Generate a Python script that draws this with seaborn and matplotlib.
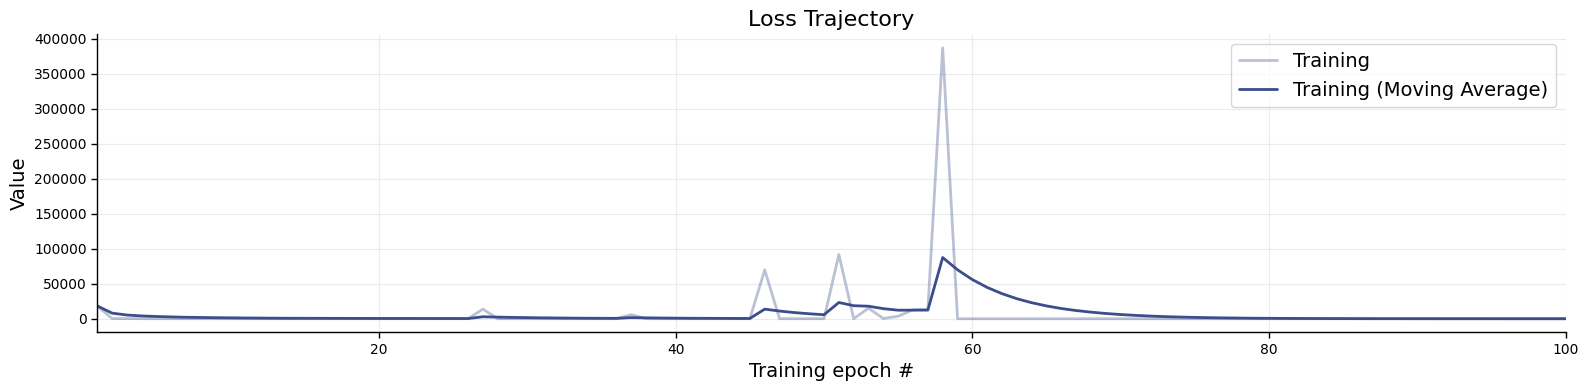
import matplotlib
matplotlib.use("Agg")
import matplotlib.pyplot as plt
import seaborn as sns
import pandas as pd

epochs = list(range(1, 101))

training = [
    18500, 500, 400, 350, 300, 300, 300, 300, 300, 300,
    300, 300, 300, 300, 300, 300, 300, 300, 300, 300,
    300, 300, 300, 300, 300, 300, 13900, 300, 300, 300,
    300, 300, 300, 300, 300, 300, 6000, 300, 300, 300,
    300, 300, 300, 300, 300, 69900, 300, 300, 300, 300,
    91800, 300, 15300, 500, 3800, 13000, 13000, 387000, 200, 200,
    200, 200, 200, 200, 200, 200, 200, 200, 200, 200,
    200, 200, 200, 200, 200, 200, 200, 200, 200, 200,
    200, 200, 200, 200, 200, 200, 200, 200, 200, 200,
    200, 200, 200, 200, 200, 200, 200, 200, 200, 200,
]

moving_avg = [
    18500, 8200, 5500, 4200, 3400, 2800, 2300, 2000, 1700, 1500,
    1300, 1150, 1000, 900, 850, 800, 750, 700, 650, 600,
    580, 560, 540, 520, 500, 480, 3000, 2500, 2100, 1800,
    1500, 1300, 1100, 950, 850, 750, 1800, 1500, 1250, 1050,
    900, 800, 700, 620, 560, 13900, 11200, 9000, 7300, 5900,
    23400, 18800, 18100, 14600, 12400, 12500, 12600, 87600, 70100, 56100,
    44900, 36000, 28800, 23100, 18500, 14800, 11900, 9600, 7700, 6200,
    5000, 4000, 3200, 2600, 2100, 1700, 1400, 1150, 950, 800,
    680, 580, 500, 440, 390, 350, 320, 300, 280, 265,
    250, 240, 230, 225, 220, 215, 210, 208, 205, 203,
]

labels = ["Training", "Training (Moving Average)"]
title = "Loss Trajectory"
xlabel = "Training epoch #"
ylabel = "Value"

color = "#3b4d8a"

sns.set_theme(style="whitegrid")
plt.rcParams['font.family'] = ['DejaVu Sans']
plt.rcParams['text.color'] = 'black'
plt.rcParams['axes.labelcolor'] = 'black'
plt.rcParams['xtick.color'] = 'black'
plt.rcParams['ytick.color'] = 'black'

fig = plt.figure(figsize=(15.89, 3.90), dpi=100)
ax = fig.add_axes([0.0612, 0.148, 0.9241, 0.764])

df = pd.DataFrame({"epoch": epochs, "train": training, "ma": moving_avg})
sns.lineplot(data=df, x="epoch", y="train", ax=ax, color=color, alpha=0.35,
             linewidth=2, label=labels[0])
sns.lineplot(data=df, x="epoch", y="ma", ax=ax, color=color, alpha=1.0,
             linewidth=2, label=labels[1])

ax.set_xlim(1, 100)
ax.set_xticks([20, 40, 60, 80, 100])
ax.set_yticks(list(range(0, 400001, 50000)))
ax.set_title(title, fontsize=16, color="black")
ax.set_xlabel(xlabel, fontsize=14, color="black")
ax.set_ylabel(ylabel, fontsize=14, color="black")
ax.tick_params(axis="both", labelsize=10, length=4, width=1, color="black",
               labelcolor="black", bottom=True, left=True)
ax.grid(True, color="#e6e6e6", linewidth=0.8, alpha=0.8)
for side in ["top", "right"]:
    ax.spines[side].set_visible(False)
for side in ["left", "bottom"]:
    ax.spines[side].set_color("black")
    ax.spines[side].set_linewidth(1)
ax.set_facecolor("white")
leg = ax.legend(loc="upper right", fontsize=14, frameon=True)
leg.get_frame().set_edgecolor("#cccccc")
for t in leg.get_texts():
    t.set_color("black")

fig.savefig("out.png", dpi=100)
